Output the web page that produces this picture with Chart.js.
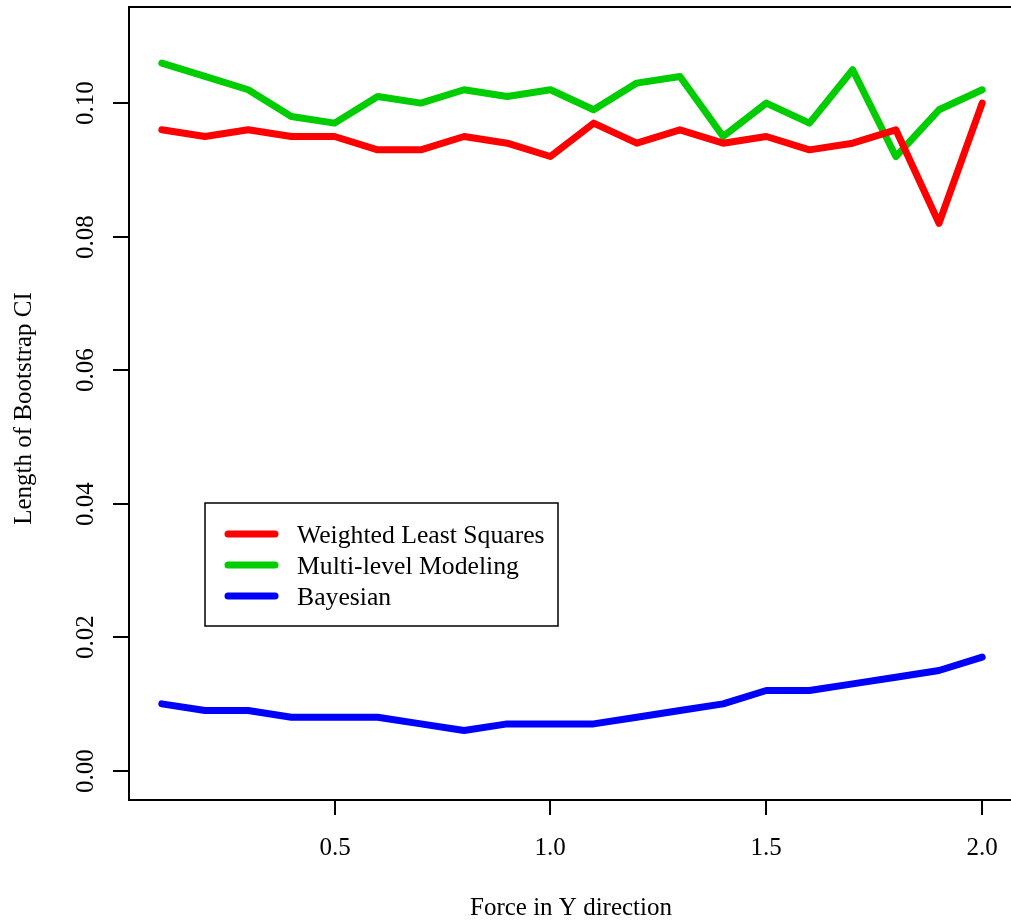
<!DOCTYPE html>
<html>
<head>
<meta charset="utf-8">
<script src="https://cdn.jsdelivr.net/npm/chart.js@4"></script>
<style>
  html, body { margin: 0; padding: 0; background: #fff; overflow: hidden; }
  #wrap { width: 1020px; height: 924px; }
</style>
</head>
<body>
<div id="wrap"><canvas id="ciChart" width="1020" height="924"></canvas></div>
<script>
// values
const forceY = [0.1, 0.2, 0.3, 0.4, 0.5, 0.6, 0.7, 0.8, 0.9, 1.0,
                1.1, 1.2, 1.3, 1.4, 1.5, 1.6, 1.7, 1.8, 1.9, 2.0];
const wlsLength = [0.096, 0.095, 0.096, 0.095, 0.095, 0.093, 0.093, 0.095, 0.094, 0.092,
                   0.097, 0.094, 0.096, 0.094, 0.095, 0.093, 0.094, 0.096, 0.082, 0.100];
const mlmLength = [0.106, 0.104, 0.102, 0.098, 0.097, 0.101, 0.100, 0.102, 0.101, 0.102,
                   0.099, 0.103, 0.104, 0.095, 0.100, 0.097, 0.105, 0.092, 0.099, 0.102];
const bayesLength = [0.010, 0.009, 0.009, 0.008, 0.008, 0.008, 0.007, 0.006, 0.007, 0.007,
                     0.007, 0.008, 0.009, 0.010, 0.012, 0.012, 0.013, 0.014, 0.015, 0.017];
const seriesNames = ['Weighted Least Squares', 'Multi-level Modeling', 'Bayesian'];
const seriesColors = ['#ff0000', '#00cd00', '#0000ff'];
const xTickValues = [0.5, 1.0, 1.5, 2.0];
const yTickValues = [0.00, 0.02, 0.04, 0.06, 0.08, 0.10];
const xTitle = 'Force in Y direction';
const yTitle = 'Length of Bootstrap CI';

const FONT = '25px "Liberation Serif", "DejaVu Serif", serif';
const LEGEND_FONT = '25.7px "Liberation Serif", "DejaVu Serif", serif';

function toPoints(ys) {
  return forceY.map((x, i) => ({ x: x, y: ys[i] }));
}

// base-graphics style frame, ticks, labels and legend
const rStyle = {
  id: 'rStyle',
  afterDraw(chart) {
    const ctx = chart.ctx;
    const area = chart.chartArea;
    const xs = chart.scales.x;
    const ys = chart.scales.y;
    ctx.save();
    ctx.strokeStyle = '#000';
    ctx.fillStyle = '#000';
    ctx.lineWidth = 2;
    ctx.strokeRect(area.left, area.top, area.right - area.left, area.bottom - area.top);

    ctx.font = FONT;
    // x ticks
    ctx.textAlign = 'center';
    ctx.textBaseline = 'alphabetic';
    xTickValues.forEach(v => {
      const px = Math.round(xs.getPixelForValue(v));
      ctx.beginPath();
      ctx.moveTo(px, area.bottom);
      ctx.lineTo(px, area.bottom + 15);
      ctx.stroke();
      ctx.fillText(v.toFixed(1), px, 855);
    });
    // y ticks, rotated like R
    yTickValues.forEach(v => {
      const py = Math.round(ys.getPixelForValue(v));
      ctx.beginPath();
      ctx.moveTo(area.left, py);
      ctx.lineTo(area.left - 16, py);
      ctx.stroke();
      ctx.save();
      ctx.translate(93, py);
      ctx.rotate(-Math.PI / 2);
      ctx.fillText(v.toFixed(2), 0, 0);
      ctx.restore();
    });
    // axis titles
    ctx.fillText(xTitle, (area.left + area.right) / 2 - 1, 915);
    ctx.save();
    ctx.translate(31, (area.top + area.bottom) / 2 + 5);
    ctx.rotate(-Math.PI / 2);
    ctx.fillText(yTitle, 0, 0);
    ctx.restore();

    // legend
    ctx.lineWidth = 1.5;
    ctx.strokeRect(205, 503, 353, 123);
    ctx.font = LEGEND_FONT;
    ctx.textAlign = 'left';
    chart.data.datasets.forEach((ds, i) => {
      const ly = 534 + i * 31;
      ctx.strokeStyle = ds.borderColor;
      ctx.lineWidth = 7;
      ctx.lineCap = 'round';
      ctx.beginPath();
      ctx.moveTo(228, ly);
      ctx.lineTo(275, ly);
      ctx.stroke();
      ctx.fillText(ds.label, 297, ly + 9);
    });
    ctx.restore();
  }
};

new Chart(document.getElementById('ciChart'), {
  type: 'line',
  data: {
    datasets: [
      { label: seriesNames[0], data: toPoints(wlsLength), borderColor: seriesColors[0] },
      { label: seriesNames[1], data: toPoints(mlmLength), borderColor: seriesColors[1] },
      { label: seriesNames[2], data: toPoints(bayesLength), borderColor: seriesColors[2] }
    ]
  },
  options: {
    responsive: false,
    animation: false,
    devicePixelRatio: 1,
    layout: { padding: { left: 129, right: 5, top: 7, bottom: 124 } },
    elements: {
      line: { borderWidth: 7, borderCapStyle: 'round', borderJoinStyle: 'round', tension: 0, fill: false },
      point: { radius: 0, hoverRadius: 0 }
    },
    plugins: { legend: { display: false }, tooltip: { enabled: false } },
    scales: {
      x: {
        type: 'linear', min: 0.024, max: 2.076,
        grid: { display: false }, border: { display: false },
        ticks: { display: false },
        afterFit: s => { s.height = 0; }
      },
      y: {
        type: 'linear', min: -0.0044, max: 0.1144,
        grid: { display: false }, border: { display: false },
        ticks: { display: false },
        afterFit: s => { s.width = 0; }
      }
    }
  },
  plugins: [rStyle]
});
</script>
</body>
</html>
